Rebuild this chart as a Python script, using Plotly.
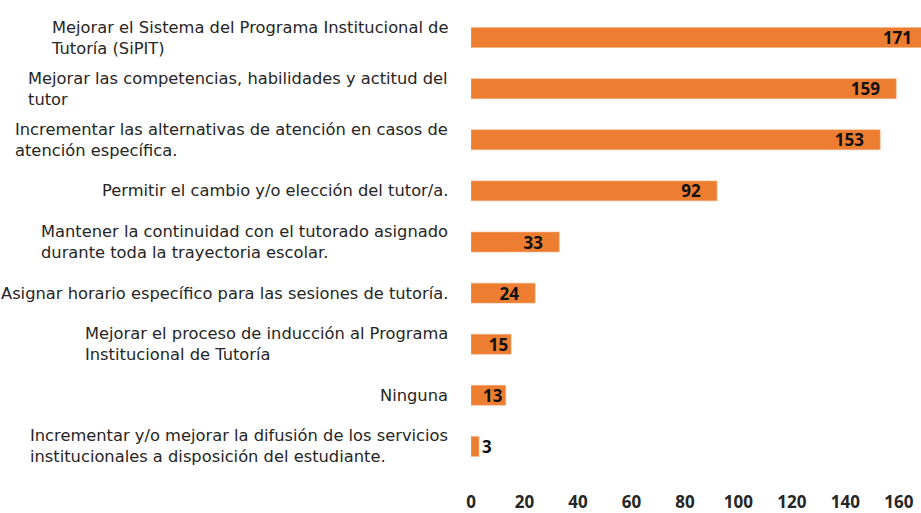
import plotly.graph_objects as go

categories = [
    "Mejorar el Sistema del Programa Institucional de<br>Tutoría (SiPIT)",
    "Mejorar las competencias, habilidades y actitud del<br>tutor",
    "Incrementar las alternativas de atención en casos de<br>atención específica.",
    "Permitir el cambio y/o elección del tutor/a.",
    "Mantener la continuidad con el tutorado asignado<br>durante toda la trayectoria escolar.",
    "Asignar horario específico para las sesiones de tutoría.",
    "Mejorar el proceso de inducción al Programa<br>Institucional de Tutoría",
    "Ninguna",
    "Incrementar y/o mejorar la difusión de los servicios<br>institucionales a disposición del estudiante.",
]
values = [171, 159, 153, 92, 33, 24, 15, 13, 3]
tick_vals = [0, 20, 40, 60, 80, 100, 120, 140, 160]

NUM_FONT = "Open Sans, sans-serif"
LAB_FONT = "DejaVu Sans, sans-serif"
ids = [f"c{i}" for i in range(len(categories))]

texts = [str(v) + ("\u00a0\u00a0\u00a0" if v >= 20 else "") for v in values]
positions = ["inside" if v >= 10 else "outside" for v in values]

fig = go.Figure()
fig.add_trace(go.Bar(
    x=values, y=ids, orientation="h",
    marker=dict(color="#ED7D31", line=dict(color="#F4B183", width=0.6)),
    text=texts,
    textposition=positions,
    insidetextanchor="end",
    textangle=0,
    constraintext="none",
    textfont=dict(family=NUM_FONT, size=17, color="#111111", weight="bold"),
    cliponaxis=True,
    hoverinfo="skip",
))

for cid, lab in zip(ids, categories):
    fig.add_annotation(
        x=0, y=cid, xref="x", yref="y", text=lab, showarrow=False,
        xanchor="right", yanchor="middle", align="left", xshift=-21,
        font=dict(family=LAB_FONT, size=16.3, color="#262626"),
    )

# figure extends past the 921px window on the right; the page clips it
fig.update_layout(
    width=935, height=513,
    margin=dict(l=471, r=0, t=12, b=37),
    paper_bgcolor="white", plot_bgcolor="white",
    bargap=0.61, showlegend=False,
    xaxis=dict(range=[0, 173.5], tickvals=tick_vals, showgrid=False, zeroline=False,
               showline=False, ticks="", ticklabelstandoff=18,
               tickfont=dict(family=NUM_FONT, size=17, color="#262626", weight="bold")),
    yaxis=dict(autorange="reversed", showticklabels=False, showgrid=False,
               zeroline=False, showline=False, ticks=""),
)

fig.write_html(
    "out.html",
    config={"displayModeBar": False},
    post_script="document.body.style.margin='0';document.body.style.overflow='hidden';",
)
